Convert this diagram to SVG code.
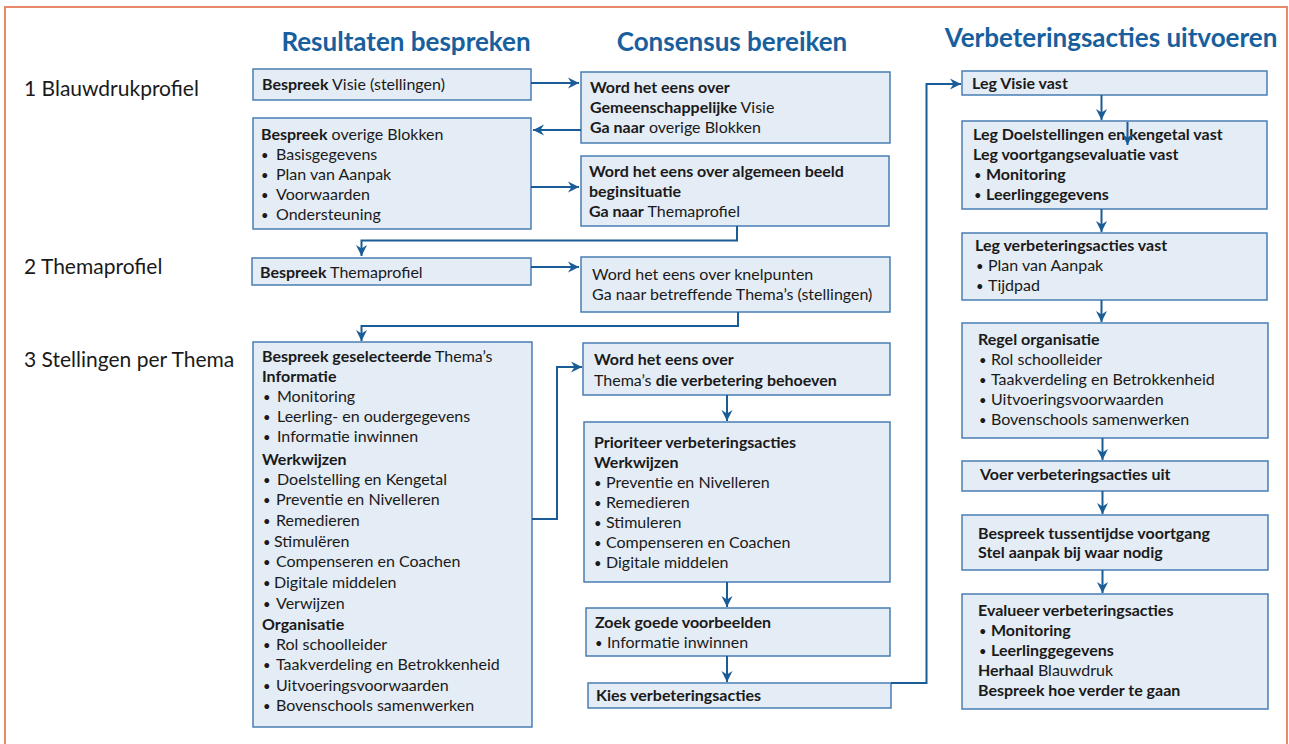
<svg xmlns="http://www.w3.org/2000/svg" width="1289" height="744" viewBox="0 0 1289 744">
<defs>
<style>
.frame{fill:none;stroke:#E8896A;stroke-width:2}
.box{fill:#E4ECF5;stroke:#4A7DB3;stroke-width:1.5}
.t{font-family:Lato,"Noto Sans",sans-serif;font-size:16px;fill:#1a1a1a}
.b{font-weight:bold}
.bu{font-weight:normal;font-size:13px}
.h{font-family:Lato,"Noto Sans",sans-serif;font-size:26px;font-weight:bold;fill:#17609D;text-anchor:middle}
.row{font-family:Lato,"Noto Sans",sans-serif;font-size:21px;fill:#1a1a1a}
.c{fill:none;stroke:#1A5C96;stroke-width:2}
</style>
<marker id="arr" markerUnits="userSpaceOnUse" markerWidth="12" markerHeight="12" refX="11" refY="6" orient="auto">
<path d="M0,0.5 L11,6 L0,11.5 L3.5,6 Z" fill="#1A5C96"/>
</marker>
</defs>
<rect width="1289" height="744" fill="#ffffff"/>
<rect class="frame" x="5" y="7" width="1282" height="760"/>

<g id="titles">
<text class="h" x="406" y="51">Resultaten bespreken</text>
<text class="h" x="732" y="51">Consensus bereiken</text>
<text class="h" x="1111" y="47">Verbeteringsacties uitvoeren</text>
</g>
<g id="rowlabels">
<text class="row" x="24" y="96">1 Blauwdrukprofiel</text>
<text class="row" x="24" y="274">2 Themaprofiel</text>
<text class="row" x="24" y="367">3 Stellingen per Thema</text>
</g>

<g id="nodeA">
<rect class="box" x="253" y="69" width="278" height="31"/>
<text class="t" x="262" y="90"><tspan class="b">Bespreek</tspan> Visie (stellingen)</text>
</g>
<g id="nodeB">
<rect class="box" x="253" y="118" width="278" height="111"/>
<text class="t" x="261" y="140"><tspan class="b">Bespreek</tspan> overige Blokken</text>
<text class="t" x="261" y="160"><tspan class="bu">•</tspan><tspan x="276">Basisgegevens</tspan></text>
<text class="t" x="261" y="180"><tspan class="bu">•</tspan><tspan x="276">Plan van Aanpak</tspan></text>
<text class="t" x="261" y="200"><tspan class="bu">•</tspan><tspan x="276">Voorwaarden</tspan></text>
<text class="t" x="261" y="220"><tspan class="bu">•</tspan><tspan x="276">Ondersteuning</tspan></text>
</g>
<g id="nodeC">
<rect class="box" x="252" y="258" width="279" height="27"/>
<text class="t" x="260" y="278"><tspan class="b">Bespreek</tspan> Themaprofiel</text>
</g>
<g id="nodeD">
<rect class="box" x="253" y="342" width="279" height="385"/>
<text class="t" x="262" y="362"><tspan class="b">Bespreek geselecteerde</tspan> Thema’s</text>
<text class="t b" x="262" y="382">Informatie</text>
<text class="t" x="263" y="402"><tspan class="bu">•</tspan><tspan x="277">Monitoring</tspan></text>
<text class="t" x="263" y="422"><tspan class="bu">•</tspan><tspan x="277">Leerling- en oudergegevens</tspan></text>
<text class="t" x="263" y="442"><tspan class="bu">•</tspan><tspan x="277">Informatie inwinnen</tspan></text>
<text class="t b" x="262" y="465">Werkwijzen</text>
<text class="t" x="263" y="485"><tspan class="bu">•</tspan><tspan x="277">Doelstelling en Kengetal</tspan></text>
<text class="t" x="263" y="505"><tspan class="bu">•</tspan><tspan x="276">Preventie en Nivelleren</tspan></text>
<text class="t" x="263" y="526"><tspan class="bu">•</tspan><tspan x="276">Remedieren</tspan></text>
<text class="t" x="263" y="547"><tspan class="bu">•</tspan><tspan x="274">Stimulëren</tspan></text>
<text class="t" x="263" y="567"><tspan class="bu">•</tspan><tspan x="276">Compenseren en Coachen</tspan></text>
<text class="t" x="263" y="588"><tspan class="bu">•</tspan><tspan x="274">Digitale middelen</tspan></text>
<text class="t" x="263" y="609"><tspan class="bu">•</tspan><tspan x="276">Verwijzen</tspan></text>
<text class="t b" x="262" y="630">Organisatie</text>
<text class="t" x="263" y="650"><tspan class="bu">•</tspan><tspan x="276">Rol schoolleider</tspan></text>
<text class="t" x="263" y="670"><tspan class="bu">•</tspan><tspan x="276">Taakverdeling en Betrokkenheid</tspan></text>
<text class="t" x="263" y="691"><tspan class="bu">•</tspan><tspan x="276">Uitvoeringsvoorwaarden</tspan></text>
<text class="t" x="263" y="711"><tspan class="bu">•</tspan><tspan x="276">Bovenschools samenwerken</tspan></text>
</g>

<g id="nodeE">
<rect class="box" x="581" y="72" width="309" height="71"/>
<text class="t b" x="590" y="93">Word het eens over</text>
<text class="t" x="590" y="113"><tspan class="b">Gemeenschappelijke</tspan> Visie</text>
<text class="t" x="590" y="133"><tspan class="b">Ga naar</tspan> overige Blokken</text>
</g>
<g id="nodeF">
<rect class="box" x="581" y="156" width="308" height="70"/>
<text class="t b" x="589" y="177">Word het eens over algemeen beeld</text>
<text class="t b" x="589" y="197">beginsituatie</text>
<text class="t" x="589" y="217"><tspan class="b">Ga naar</tspan> Themaprofiel</text>
</g>
<g id="nodeG">
<rect class="box" x="581" y="257" width="309" height="55"/>
<text class="t" x="592" y="280">Word het eens over knelpunten</text>
<text class="t" x="592" y="300">Ga naar betreffende Thema’s (stellingen)</text>
</g>
<g id="nodeH">
<rect class="box" x="583" y="343" width="307" height="52"/>
<text class="t b" x="594" y="365">Word het eens over</text>
<text class="t" x="594" y="386">Thema’s <tspan class="b">die verbetering behoeven</tspan></text>
</g>
<g id="nodeI">
<rect class="box" x="584" y="422" width="306" height="160"/>
<text class="t b" x="594" y="448">Prioriteer verbeteringsacties</text>
<text class="t b" x="594" y="468">Werkwijzen</text>
<text class="t" x="594" y="488"><tspan class="bu">•</tspan><tspan x="606">Preventie en Nivelleren</tspan></text>
<text class="t" x="594" y="508"><tspan class="bu">•</tspan><tspan x="606">Remedieren</tspan></text>
<text class="t" x="594" y="528"><tspan class="bu">•</tspan><tspan x="606">Stimuleren</tspan></text>
<text class="t" x="594" y="548"><tspan class="bu">•</tspan><tspan x="606">Compenseren en Coachen</tspan></text>
<text class="t" x="594" y="568"><tspan class="bu">•</tspan><tspan x="606">Digitale middelen</tspan></text>
</g>
<g id="nodeJ">
<rect class="box" x="586" y="608" width="304" height="48"/>
<text class="t b" x="595" y="628">Zoek goede voorbeelden</text>
<text class="t" x="595" y="648"><tspan class="bu">•</tspan><tspan x="607">Informatie inwinnen</tspan></text>
</g>
<g id="nodeK">
<rect class="box" x="588" y="683" width="303" height="25"/>
<text class="t b" x="596" y="701">Kies verbeteringsacties</text>
</g>

<g id="nodeL">
<rect class="box" x="962" y="71" width="305" height="24"/>
<text class="t b" x="972" y="89">Leg Visie vast</text>
</g>
<g id="nodeM">
<rect class="box" x="962" y="121" width="305" height="88"/>
<text class="t b" x="973" y="140">Leg Doelstellingen en kengetal vast</text>
<text class="t b" x="973" y="160">Leg voortgangsevaluatie vast</text>
<text class="t b" x="974" y="180"><tspan class="bu">•</tspan><tspan x="986">Monitoring</tspan></text>
<text class="t b" x="974" y="200"><tspan class="bu">•</tspan><tspan x="986">Leerlinggegevens</tspan></text>
</g>
<g id="nodeN">
<rect class="box" x="962" y="233" width="305" height="67"/>
<text class="t b" x="975" y="251">Leg verbeteringsacties vast</text>
<text class="t" x="976" y="271"><tspan class="bu">•</tspan><tspan x="988">Plan van Aanpak</tspan></text>
<text class="t" x="976" y="291"><tspan class="bu">•</tspan><tspan x="988">Tijdpad</tspan></text>
</g>
<g id="nodeO">
<rect class="box" x="962" y="323" width="306" height="115"/>
<text class="t b" x="978" y="345">Regel organisatie</text>
<text class="t" x="979" y="365"><tspan class="bu">•</tspan><tspan x="991">Rol schoolleider</tspan></text>
<text class="t" x="979" y="385"><tspan class="bu">•</tspan><tspan x="991">Taakverdeling en Betrokkenheid</tspan></text>
<text class="t" x="979" y="405"><tspan class="bu">•</tspan><tspan x="991">Uitvoeringsvoorwaarden</tspan></text>
<text class="t" x="979" y="425"><tspan class="bu">•</tspan><tspan x="991">Bovenschools samenwerken</tspan></text>
</g>
<g id="nodeP">
<rect class="box" x="962" y="461" width="306" height="30"/>
<text class="t b" x="980" y="480">Voer verbeteringsacties uit</text>
</g>
<g id="nodeQ">
<rect class="box" x="962" y="515" width="306" height="55"/>
<text class="t b" x="978" y="539">Bespreek tussentijdse voortgang</text>
<text class="t b" x="978" y="558">Stel aanpak bij waar nodig</text>
</g>
<g id="nodeR">
<rect class="box" x="962" y="594" width="306" height="115"/>
<text class="t b" x="978" y="616">Evalueer verbeteringsacties</text>
<text class="t b" x="979" y="636"><tspan class="bu">•</tspan><tspan x="991">Monitoring</tspan></text>
<text class="t b" x="979" y="656"><tspan class="bu">•</tspan><tspan x="991">Leerlinggegevens</tspan></text>
<text class="t" x="978" y="676"><tspan class="b">Herhaal</tspan> Blauwdruk</text>
<text class="t b" x="978" y="696">Bespreek hoe verder te gaan</text>
</g>

<g id="connectors">
<path class="c" marker-end="url(#arr)" d="M531,83 H579"/>
<path class="c" marker-end="url(#arr)" d="M581,130 H533"/>
<path class="c" marker-end="url(#arr)" d="M531,187 H579"/>
<path class="c" marker-end="url(#arr)" d="M737,226 V240.5 H361.5 V256"/>
<path class="c" marker-end="url(#arr)" d="M531,267 H579"/>
<path class="c" marker-end="url(#arr)" d="M738,312 V326 H361.5 V341"/>
<path class="c" marker-end="url(#arr)" d="M532,519 H557 V367 H582"/>
<path class="c" marker-end="url(#arr)" d="M727,395 V421"/>
<path class="c" marker-end="url(#arr)" d="M727,582 V607"/>
<path class="c" marker-end="url(#arr)" d="M727,656 V682"/>
<path class="c" marker-end="url(#arr)" d="M891,683 H926.5 V84 H961"/>
<path class="c" marker-end="url(#arr)" d="M1101.5,95 V120"/>
<path class="c" marker-end="url(#arr)" d="M1127.5,122 V145"/>
<path class="c" marker-end="url(#arr)" d="M1101.5,209 V232"/>
<path class="c" marker-end="url(#arr)" d="M1101.5,300 V322"/>
<path class="c" marker-end="url(#arr)" d="M1102.5,438 V460"/>
<path class="c" marker-end="url(#arr)" d="M1102.5,491 V514"/>
<path class="c" marker-end="url(#arr)" d="M1102.5,570 V593"/>
</g>
</svg>
